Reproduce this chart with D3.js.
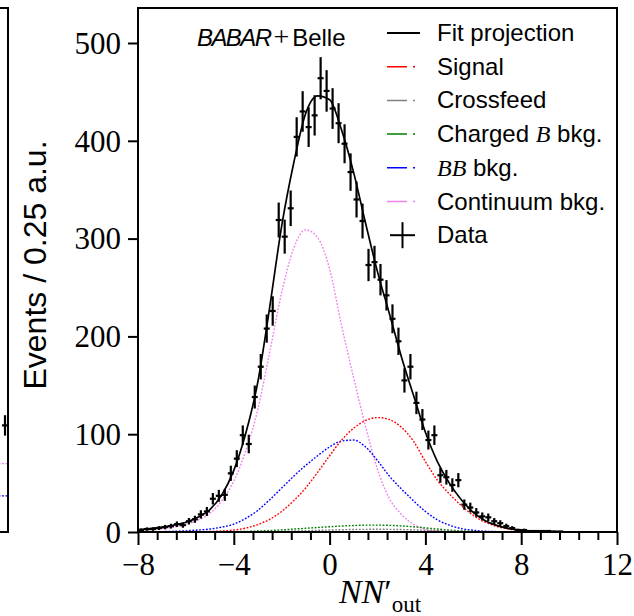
<!DOCTYPE html>
<html>
<head>
<meta charset="utf-8">
<script src="https://cdn.jsdelivr.net/npm/d3@7"></script>
<style>
  body { margin: 0; background: #fff; }
  svg { display: block; }
</style>
</head>
<body>
<svg id="chart" width="634" height="616"></svg>
<script>
// ---- fit components, sampled every 0.5 in NN'out ----
const gridX = [-8,-7.5,-7,-6.5,-6,-5.5,-5,-4.5,-4,-3.5,-3,-2.5,-2,-1.5,-1,-0.5,0,0.5,1,1.5,2,2.5,3,3.5,4,4.5,5,5.5,6,6.5,7,7.5,8,8.5,9,9.5,10];
const fitProjection = [2.5,3.5,5,7,10,15,23,38,63,101,153,230,313,377,428,446,442,411,368,316,266,223,179,140,102,72,50,33,20,11.5,6.5,3.5,1.8,0.9,0.4,0.2,0.1];
const signal        = [0,0,0,0.1,0.2,0.3,0.5,1,2,4,7.5,13,21,32,45,61,78,94,106,114,117,115,107,93,72,53,39,27,17,10,5.5,3,1.5,0.7,0.3,0.1,0];
const crossfeed     = [0,0,0,0,0,0,0,0,0,0.1,0.3,0.5,0.7,1,1.3,1.7,2,2.3,2.6,2.7,2.8,2.7,2.5,2.2,1.8,1.4,1,0.7,0.4,0.2,0.1,0,0,0,0,0,0];
const chargedBkg    = [0,0,0,0,0,0,0,0.1,0.3,0.6,1,1.5,2.2,3,3.8,4.6,5.4,6.1,6.6,7,7,6.8,6.2,5.3,4.2,3,2,1.2,0.6,0.3,0.1,0,0,0,0,0,0];
const bbBkg         = [0,0.2,0.4,0.7,1.2,2,3,5,8,14,22,33,45,57,68,78,87,93,94,87,73,57,44,32,21,12.5,7,3.5,1.8,0.8,0.4,0.2,0.1,0,0,0,0];
const continuumBkg  = [1.5,2.5,3.5,5,8,12,19,32,52,83,125,184,245,290,309,301,269,211,158,108,64,34,18,8,3,1,0.3,0,0,0,0,0,0,0,0,0,0];

// ---- data histogram: 0.25-wide bins starting at -8 ----
const binWidth = 0.25;
const binCenters = d3.range(72).map(i => -8 + binWidth / 2 + i * binWidth);
const dataCounts = [2,3,3,4,5,6,8,7,11,13,18,21,34,37,38,60,75,99,90,138,169,208,226,319,302,331,404,430,414,426,464,451,
  433,418,397,368,340,318,273,276,258,242,218,195,155,169,132,115,94,99,58,56,48,53,28,25,20,16,15,11,9,6,4,2,2,1,1,1,1,0.5,0.5,0];

// edge of the neighbouring panel on the left
const nbX = [11.6, 12];
const nbContinuum = [70, 70];
const nbBB = [37, 37];
const nbDataX = [11.875];
const nbDataCounts = [109];

// ---- axis ticks and text ----
const xTicks = [-8, -4, 0, 4, 8, 12];
const yTicks = [0, 100, 200, 300, 400, 500];
const yLabel = "Events / 0.25 a.u.";

const legendItems = [
  { key: "fit",   label: [["Fit projection", false]], color: "#000", type: "solid" },
  { key: "sig",   label: [["Signal", false]], color: "#ff0000", type: "dashdot" },
  { key: "cf",    label: [["Crossfeed", false]], color: "#808080", type: "dashdot" },
  { key: "chg",   label: [["Charged ", false], ["B", true], [" bkg.", false]], color: "#008000", type: "dashdot" },
  { key: "bb",    label: [["BB", true], [" bkg.", false]], color: "#0000ff", type: "dashdot" },
  { key: "cont",  label: [["Continuum bkg.", false]], color: "#ee82ee", type: "dashdot" },
  { key: "data",  label: [["Data", false]], color: "#000", type: "cross" }
];

const components = [
  { values: continuumBkg, color: "#ee82ee" },
  { values: bbBkg,        color: "#0000ff" },
  { values: chargedBkg,   color: "#008000" },
  { values: crossfeed,    color: "#808080" },
  { values: signal,       color: "#ff0000" }
];

// ---- layout ----
const frame = { left: 138, right: 617, top: 8, bottom: 532 };
const svg = d3.select("#chart");
const serif = "'Liberation Serif', 'DejaVu Serif', serif";
const sans = "'Liberation Sans', 'DejaVu Sans', sans-serif";

const x = d3.scaleLinear().domain([-8, 12]).range([frame.left, frame.right]);
const y = d3.scaleLinear().domain([0, 500]).range([frame.bottom, 43]);

svg.append("defs").append("clipPath").attr("id", "plotClip")
  .append("rect")
  .attr("x", frame.left).attr("y", frame.top)
  .attr("width", frame.right - frame.left).attr("height", frame.bottom - frame.top);

// neighbouring panel edge
const xNb = d3.scaleLinear().domain([-8, 12]).range([8 - 479, 8]);
svg.append("defs").append("clipPath").attr("id", "nbClip")
  .append("rect").attr("x", 0).attr("y", frame.top).attr("width", 8).attr("height", frame.bottom - frame.top);
const nb = svg.append("g").attr("clip-path", "url(#nbClip)");
const nbLine = vals => d3.line().x((d, i) => xNb(nbX[i])).y(d => y(d))(vals);
nb.append("path").attr("d", nbLine(nbContinuum)).attr("fill", "none")
  .attr("stroke", "#ee82ee").attr("stroke-width", 1.3).attr("stroke-dasharray", "2,1.5");
nb.append("path").attr("d", nbLine(nbBB)).attr("fill", "none")
  .attr("stroke", "#0000ff").attr("stroke-width", 1.3).attr("stroke-dasharray", "2,1.5");
nbDataX.forEach((c, i) => {
  const n = nbDataCounts[i], e = Math.sqrt(n);
  nb.append("line").attr("x1", xNb(c)).attr("x2", xNb(c)).attr("y1", y(n - e)).attr("y2", y(n + e))
    .attr("stroke", "#000").attr("stroke-width", 2.2);
  nb.append("line").attr("x1", xNb(c - binWidth / 2)).attr("x2", xNb(c + binWidth / 2)).attr("y1", y(n)).attr("y2", y(n))
    .attr("stroke", "#000").attr("stroke-width", 2.2);
});
svg.append("path")
  .attr("d", `M0,${frame.top}H8V${frame.bottom}H0`)
  .attr("fill", "none").attr("stroke", "#000").attr("stroke-width", 2);

// ---- curves ----
const plot = svg.append("g").attr("clip-path", "url(#plotClip)");
const lineGen = d3.line()
  .x((d, i) => x(gridX[i]))
  .y(d => y(d))
  .curve(d3.curveMonotoneX);

components.forEach(c => {
  plot.append("path")
    .attr("d", lineGen(c.values))
    .attr("fill", "none")
    .attr("stroke", c.color)
    .attr("stroke-width", 1.4)
    .attr("stroke-dasharray", "1.8,1.6");
});

plot.append("path")
  .attr("d", lineGen(fitProjection))
  .attr("fill", "none")
  .attr("stroke", "#000")
  .attr("stroke-width", 1.7);

// ---- data points with Poisson error bars ----
const pts = plot.append("g").attr("stroke", "#000").attr("stroke-width", 2.2);
binCenters.forEach((c, i) => {
  const n = dataCounts[i];
  if (n <= 0) return;
  const e = Math.sqrt(n);
  pts.append("line").attr("x1", x(c)).attr("x2", x(c)).attr("y1", y(Math.max(0, n - e))).attr("y2", y(n + e));
  pts.append("line").attr("x1", x(c - binWidth / 2)).attr("x2", x(c + binWidth / 2)).attr("y1", y(n)).attr("y2", y(n));
});

// ---- axes ----
const fmt = d => d < 0 ? "\u2212" + Math.abs(d) : String(d);

const xMinor = d3.range(26).map(i => -8 + i * 0.8).filter((d, i) => i % 5 !== 0);
const gxMinor = svg.append("g").attr("transform", `translate(0,${frame.bottom})`)
  .call(d3.axisBottom(x).tickValues(xMinor).tickSize(8).tickFormat(""));
const gx = svg.append("g").attr("transform", `translate(0,${frame.bottom})`)
  .call(d3.axisBottom(x).tickValues(xTicks).tickSize(13).tickFormat(fmt));
[gxMinor, gx].forEach(g => {
  g.select(".domain").remove();
  g.selectAll(".tick line").attr("stroke", "#000").attr("stroke-width", 2);
});
gx.selectAll(".tick text")
  .attr("y", 43).attr("dy", null)
  .attr("font-family", serif).attr("font-size", 31).attr("fill", "#000");

const gy = svg.append("g").attr("transform", `translate(${frame.left},0)`)
  .call(d3.axisLeft(y).tickValues(yTicks).tickSize(10).tickFormat(fmt));
gy.select(".domain").remove();
gy.selectAll(".tick line").attr("stroke", "#000").attr("stroke-width", 2);
gy.selectAll(".tick text")
  .attr("x", -17).attr("dy", "0.33em")
  .attr("font-family", serif).attr("font-size", 31).attr("fill", "#000");

// frame
svg.append("rect")
  .attr("x", frame.left).attr("y", frame.top)
  .attr("width", frame.right - frame.left).attr("height", frame.bottom - frame.top)
  .attr("fill", "none").attr("stroke", "#000").attr("stroke-width", 2);

// axis labels
svg.append("text")
  .attr("transform", `translate(46,${(frame.top + frame.bottom) / 2 - 5}) rotate(-90)`)
  .attr("text-anchor", "middle")
  .attr("font-family", sans).attr("font-size", 32).attr("fill", "#000")
  .text(yLabel);

const xl = svg.append("text")
  .attr("x", 380).attr("y", 603)
  .attr("text-anchor", "middle")
  .attr("font-family", serif).attr("font-size", 34).attr("fill", "#000");
xl.append("tspan").attr("font-style", "italic").text("NN");
xl.append("tspan").text("\u2032");
xl.append("tspan").attr("font-size", 23).attr("dy", 9).text("out");

// experiment tag
const tag = svg.append("text")
  .attr("x", 197).attr("y", 46)
  .attr("font-family", sans).attr("font-size", 24).attr("fill", "#000");
tag.append("tspan").attr("font-style", "italic").attr("letter-spacing", -1.6).text("BABAR");
tag.append("tspan").attr("font-family", serif).attr("font-size", 28).attr("dx", 3).text("+");
tag.append("tspan").attr("dx", 3).text("Belle");

// ---- legend ----
const legend = svg.append("g");
legendItems.forEach((item, i) => {
  const cy = 33 + i * 33.7;
  if (item.type === "solid") {
    legend.append("line").attr("x1", 387).attr("x2", 420).attr("y1", cy).attr("y2", cy)
      .attr("stroke", item.color).attr("stroke-width", 1.8);
  } else if (item.type === "dashdot") {
    legend.append("line").attr("x1", 387).attr("x2", 418).attr("y1", cy).attr("y2", cy)
      .attr("stroke", item.color).attr("stroke-width", 1.5).attr("stroke-dasharray", "20,6,2,20");
  } else {
    legend.append("line").attr("x1", 390).attr("x2", 415).attr("y1", cy).attr("y2", cy)
      .attr("stroke", "#000").attr("stroke-width", 2);
    legend.append("line").attr("x1", 402.5).attr("x2", 402.5).attr("y1", cy - 13).attr("y2", cy + 13)
      .attr("stroke", "#000").attr("stroke-width", 2);
  }
  const t = legend.append("text")
    .attr("x", 437).attr("y", cy + 8)
    .attr("font-family", sans).attr("font-size", 24).attr("fill", "#000");
  item.label.forEach(([s, math]) => {
    const sp = t.append("tspan").text(s);
    if (math) sp.attr("font-family", serif).attr("font-style", "italic");
  });
});
</script>
</body>
</html>
